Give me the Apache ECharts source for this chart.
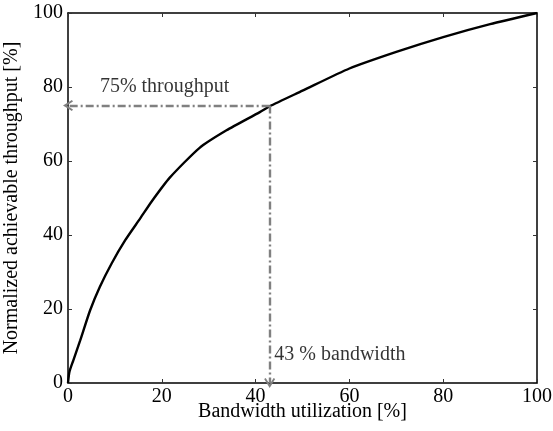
<!DOCTYPE html>
<html lang="en">
<head>
    <meta charset="UTF-8">
    <title>Throughput vs bandwidth</title>
    <script src="https://cdn.jsdelivr.net/npm/echarts@6/dist/echarts.min.js"></script>
    <style>
        body { margin: 0; background: #fff; }
        #main { width: 553px; height: 431px; }
    </style>
</head>
<body>
    <div id="main"></div>
<script>
    // curve (bandwidth %, throughput %)
    var bandwidth = [0, 0.3, 1.1, 2.6, 4.7, 6.8, 9.3, 12.2, 15.4, 17.8, 21.7, 28, 33.8, 40.9, 43, 50, 60, 70, 80, 90, 100];
    var throughput = [0, 3, 6, 11.5, 19.6, 26, 32.3, 38.6, 44.5, 49, 55.5, 63.5, 68.3, 73.2, 74.8, 79, 85, 89.5, 93.5, 97, 100];
    var ticks = [0, 20, 40, 60, 80, 100];
    // the marked point and its labels
    var marked = [43, 75];
    var labelThroughput = '75% throughput';
    var labelBandwidth = '43 % bandwidth';

    var serif = 'Liberation Serif';
    var chevron = 'path://M5,0 L10,8 L8.6,9 L5,3.4 L1.4,9 L0,8 Z';
    var grey = '#808080';

    var curve = bandwidth.map(function (x, i) { return [x, throughput[i]]; });

    var chart = echarts.init(document.getElementById('main'));

    function axisBase(extra) {
        var a = {
            type: 'value', min: ticks[0], max: ticks[ticks.length - 1], interval: ticks[1] - ticks[0],
            axisLine: { show: true, onZero: false, lineStyle: { color: '#000', width: 1.5 } },
            axisTick: { show: true, inside: true, length: 4, lineStyle: { color: '#333', width: 1 } },
            splitLine: { show: false },
            axisLabel: { show: false }
        };
        for (var k in extra) a[k] = extra[k];
        return a;
    }

    chart.setOption({
        animation: false,
        grid: { left: 68, right: 16, top: 13, bottom: 48, containLabel: false, outerBoundsMode: 'none' },
        xAxis: [
            axisBase({
                position: 'bottom',
                name: 'Bandwidth utilization [%]', nameLocation: 'middle', nameGap: 19,
                nameMoveOverlap: false,
                nameTextStyle: { color: '#000', fontFamily: serif, fontSize: 20 },
                axisLabel: { color: '#000', fontFamily: serif, fontSize: 20, margin: 4 }
            }),
            axisBase({ position: 'top' })
        ],
        yAxis: [
            axisBase({
                position: 'left',
                name: 'Normalized achievable throughput [%]', nameLocation: 'middle', nameGap: 41,
                nameTextStyle: { color: '#000', fontFamily: serif, fontSize: 20 },
                axisLabel: { color: '#000', fontFamily: serif, fontSize: 20, margin: 5 }
            }),
            axisBase({ position: 'right' })
        ],
        series: [
            {
                type: 'line',
                data: curve,
                smooth: 0.2,
                symbol: 'none',
                lineStyle: { color: '#000', width: 2.4 },
                z: 3,
                markLine: {
                    silent: true,
                    symbol: ['none', chevron],
                    symbolSize: [11, 10],
                    lineStyle: { color: grey, width: 2.4, type: [8, 3, 2, 3] },
                    label: { show: false },
                    data: [
                        [{ coord: [marked[0], marked[1]] }, { coord: [0, marked[1]] }],
                        [{ coord: [marked[0], marked[1]] }, { coord: [marked[0], 0] }]
                    ]
                }
            },
            {
                type: 'scatter',
                symbolSize: 0,
                silent: true,
                label: {
                    show: true, position: 'right', distance: 0,
                    color: '#000', fontFamily: serif, fontSize: 20,
                    formatter: function (p) { return p.data.name; }
                },
                data: [
                    { name: labelThroughput, value: [6.8, 80.2] },
                    { name: labelBandwidth, value: [44, 7.6] }
                ]
            }
        ]
    });
</script>
</body>
</html>
